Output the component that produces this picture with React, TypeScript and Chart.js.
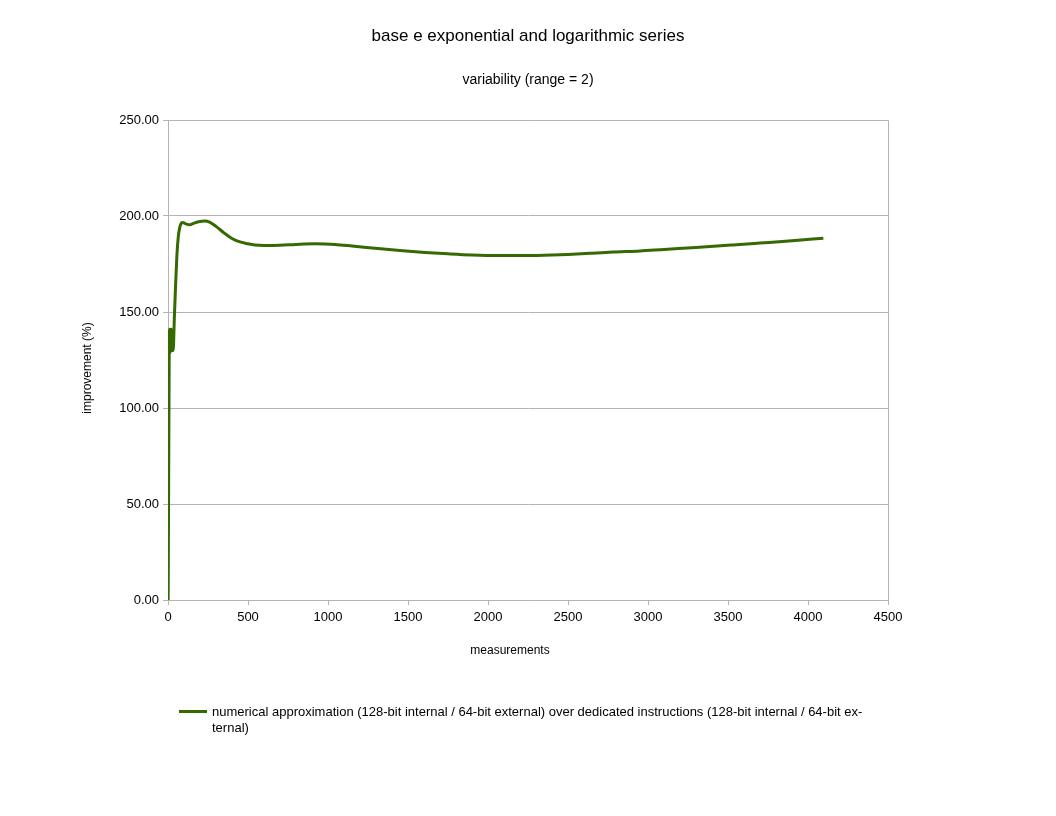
import React, { useEffect, useRef } from "react";
import { Chart, registerables } from "chart.js";

Chart.register(...registerables);

const titleText = "base e exponential and logarithmic series";
const subtitleText = "variability (range = 2)";
const xAxisTitle = "measurements";
const yAxisTitle = "improvement (%)";
const seriesLabel = "numerical approximation (128-bit internal / 64-bit external) over dedicated instructions (128-bit internal / 64-bit external)";
const legendLine1 = "numerical approximation (128-bit internal / 64-bit external) over dedicated instructions (128-bit internal / 64-bit ex-";
const legendLine2 = "ternal)";

const measurements = [
  1, 4, 7, 9, 11, 13, 15, 17, 19, 21, 23, 25, 27, 29, 31, 34, 40, 48, 56, 64, 72, 80, 90,
  100, 115, 137, 160, 190, 231, 260, 300, 350, 400, 450, 500, 544, 600, 700, 800, 919,
  1044, 1150, 1294, 1450, 1606, 1750, 1900, 2054, 2200, 2350, 2500, 2650, 2781, 2950,
  3100, 3300, 3531, 3700, 3900, 4096,
];
const improvement = [
  0, 60, 120, 141, 130, 141, 129, 140, 131, 141, 130, 139, 131, 140, 130, 132, 148, 165, 180, 189, 193.5, 195.8, 196.6,
  196.4, 195.8, 195.5, 196.2, 197.0, 197.4, 196.8, 194.6, 191.2, 188.3, 186.5, 185.5, 184.9, 184.7, 184.8, 185.2, 185.5,
  185.2, 184.4, 183.2, 182.0, 181.0, 180.3, 179.7, 179.4, 179.4, 179.6, 180.0, 180.6, 181.2, 181.8,
  182.6, 183.6, 184.9, 185.9, 187.1, 188.4,
];

const xTicks = [0, 500, 1000, 1500, 2000, 2500, 3000, 3500, 4000, 4500];
const yTicks = [0, 50, 100, 150, 200, 250];

const FONT = "'Liberation Sans', Arial, sans-serif";
const GRID = "#b3b3b3";
const LINE = "#356a00";

const frame = {
  id: "frame",
  afterDraw(chart: any) {
    const { ctx, chartArea } = chart;
    ctx.save();
    ctx.strokeStyle = GRID;
    ctx.lineWidth = 1;
    ctx.beginPath();
    ctx.moveTo(chartArea.left, chartArea.top + 0.5);
    ctx.lineTo(chartArea.right + 0.5, chartArea.top + 0.5);
    ctx.lineTo(chartArea.right + 0.5, chartArea.bottom);
    ctx.stroke();
    ctx.restore();
  },
};

const texts = {
  id: "texts",
  afterDraw(chart: any) {
    const { ctx } = chart;
    ctx.save();
    ctx.fillStyle = "#000";
    ctx.textAlign = "center";
    ctx.textBaseline = "middle";
    ctx.font = `17px ${FONT}`;
    ctx.fillText(titleText, 528, 36);
    ctx.font = `14px ${FONT}`;
    ctx.fillText(subtitleText, 528, 80);
    ctx.font = `12px ${FONT}`;
    ctx.fillText(xAxisTitle, 510, 651);
    ctx.translate(88, 368);
    ctx.rotate(-Math.PI / 2);
    ctx.fillText(yAxisTitle, 0, 0);
    ctx.restore();
  },
};

export default function App() {
  const ref = useRef<HTMLCanvasElement | null>(null);

  useEffect(() => {
    if (!ref.current) return;
    const points = measurements.map((x, i) => ({ x, y: improvement[i] }));
    const chart = new Chart(ref.current, {
      type: "line",
      data: {
        datasets: [
          {
            label: seriesLabel,
            data: points,
            borderColor: LINE,
            backgroundColor: LINE,
            borderWidth: 3,
            pointRadius: 0,
            cubicInterpolationMode: "monotone",
            fill: false,
          },
        ],
      },
      options: {
        animation: false,
        responsive: true,
        maintainAspectRatio: false,
        devicePixelRatio: 1,
        layout: { padding: { left: 0, right: 168, top: 120, bottom: 0 } },
        plugins: {
          legend: { display: false },
          tooltip: { enabled: false },
          title: { display: false },
          subtitle: { display: false },
        },
        scales: {
          x: {
            type: "linear",
            min: 0,
            max: 4500,
            afterBuildTicks: (s: any) => {
              s.ticks = xTicks.map((v) => ({ value: v }));
            },
            afterFit: (s: any) => {
              s.height = 216;
            },
            ticks: {
              color: "#000",
              font: { family: FONT, size: 13 },
              padding: 5,
              maxRotation: 0,
              autoSkip: false,
              callback: (v: any) => String(v),
            },
            grid: {
              drawOnChartArea: false,
              drawTicks: true,
              tickLength: 5,
              color: GRID,
            },
            border: { color: GRID },
          },
          y: {
            type: "linear",
            min: 0,
            max: 250,
            afterBuildTicks: (s: any) => {
              s.ticks = yTicks.map((v) => ({ value: v }));
            },
            afterFit: (s: any) => {
              s.width = 168;
            },
            ticks: {
              color: "#000",
              font: { family: FONT, size: 13 },
              padding: 4,
              autoSkip: false,
              callback: (v: any) => Number(v).toFixed(2),
            },
            grid: {
              color: GRID,
              drawTicks: true,
              tickLength: 5,
            },
            border: { color: GRID },
          },
        },
      },
      plugins: [frame, texts],
    } as any);
    return () => chart.destroy();
  }, []);

  return (
    <div style={{ position: "absolute", left: 0, top: 0, width: 1056, height: 816, background: "#fff" }}>
      <canvas ref={ref} />
      <div
        style={{
          position: "absolute",
          left: 179,
          top: 710,
          width: 28,
          height: 3,
          background: LINE,
        }}
      />
      <div
        style={{
          position: "absolute",
          left: 212,
          top: 704,
          fontFamily: FONT,
          fontSize: 13,
          lineHeight: "16px",
          color: "#000",
          whiteSpace: "nowrap",
        }}
      >
        {legendLine1}
        <br />
        {legendLine2}
      </div>
    </div>
  );
}
